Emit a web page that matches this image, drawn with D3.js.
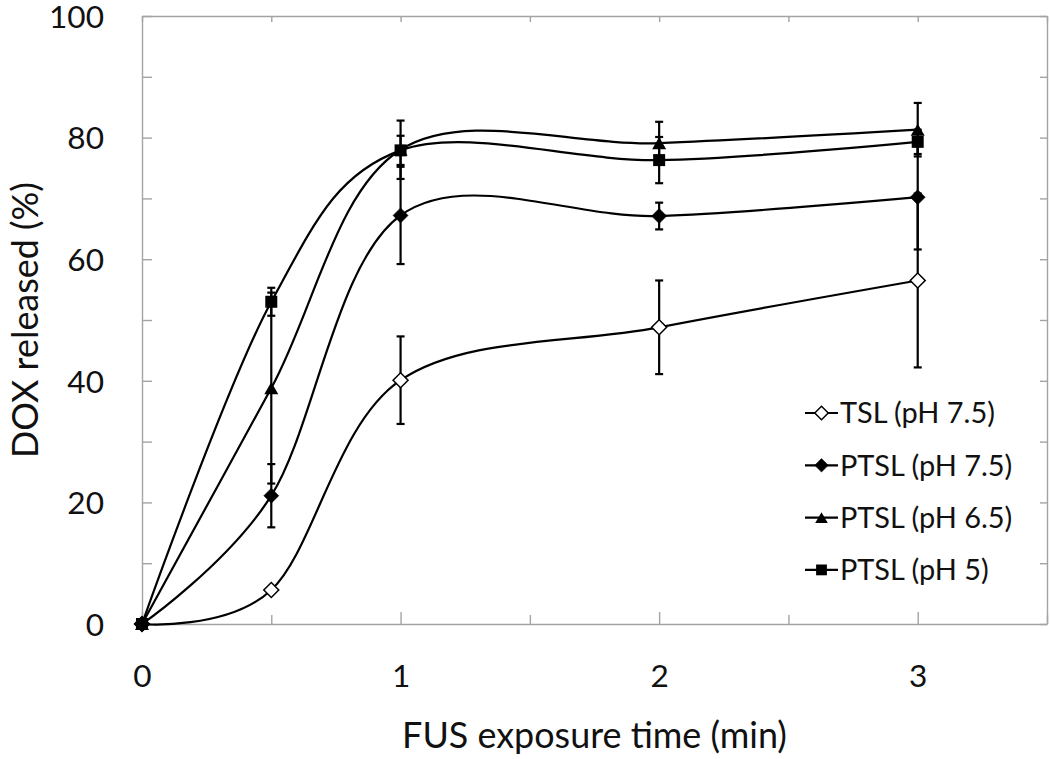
<!DOCTYPE html>
<html><head><meta charset="utf-8">
<script src="https://cdn.jsdelivr.net/npm/d3@7"></script>
<style>body{margin:0;background:#fff}svg{display:block}</style>
</head><body>
<svg id="chart" width="1050" height="759"></svg>
<script>
// ---- data ----
const times = [0, 0.5, 1, 2, 3];
const seriesNames = ["TSL (pH 7.5)", "PTSL (pH 7.5)", "PTSL (pH 6.5)", "PTSL (pH 5)"];
const tslValues    = [0, 5.6, 40.1, 48.8, 56.5];
const tslErrors    = [0, 0, 7.2, 7.7, 14.3];
const ptsl75Values = [0, 21.1, 67.2, 67.1, 70.2];
const ptsl75Errors = [0, 5.2, 8.0, 2.2, 8.6];
const ptsl65Values = [0, 38.8, 78.0, 79.1, 81.3];
const ptsl65Errors = [0, 15.7, 4.8, 3.5, 4.4];
const ptsl5Values  = [0, 53.0, 77.9, 76.3, 79.3];
const ptsl5Errors  = [0, 2.3, 2.4, 3.8, 2.0];
const markerTypes  = ["diamondOpen", "diamond", "triangle", "square"];
const xTickLabels  = [0, 1, 2, 3];
const yTickLabels  = [0, 20, 40, 60, 80, 100];
const xTitle = "FUS exposure time (min)";
const yTitle = "DOX released (%)";

const valuesList = [tslValues, ptsl75Values, ptsl65Values, ptsl5Values];
const errorsList = [tslErrors, ptsl75Errors, ptsl65Errors, ptsl5Errors];
const series = seriesNames.map((name, i) => ({
  name, type: markerTypes[i],
  points: times.map((t, j) => ({t, v: valuesList[i][j], e: errorsList[i][j]}))
}));

// ---- layout ----
const FONT = "Lato, 'Open Sans', sans-serif";
const AXIS_GRAY = "#a3a3a3";
const svg = d3.select("#chart");
svg.append("rect").attr("width", 1050).attr("height", 759).attr("fill", "#fff");

const x = d3.scaleLinear().domain([0, 3.5]).range([142, 1047]);
const y = d3.scaleLinear().domain([0, 100]).range([624, 16]);

function fitSize(text, target, base) {
  const t = svg.append("text").attr("font-family", FONT).attr("font-size", base).text(text);
  const w = t.node().getComputedTextLength();
  t.remove();
  return base * target / w;
}
const tickFs = fitSize("100", 55, 36);
const titleFs = fitSize(xTitle, 385, 36);
const legendFs = fitSize(seriesNames[0], 155, 32);

// ---- axes / frame ----
const halfTicks = d3.range(0, 3.5001, 0.5);
const tenTicks = d3.range(0, 100.001, 10);

const gB = svg.append("g").attr("transform", `translate(0,${y(0)})`)
  .call(d3.axisBottom(x).tickValues(halfTicks).tickSizeInner(-10).tickSizeOuter(0)
    .tickFormat(d => xTickLabels.includes(d) ? d3.format("d")(d) : ""));
gB.selectAll(".tick line").attr("y2", d => Number.isInteger(d) ? -12 : -9);
gB.selectAll(".tick text").attr("y", 63).attr("dy", 0);

const gL = svg.append("g").attr("transform", `translate(${x(0)},0)`)
  .call(d3.axisLeft(y).tickValues(tenTicks).tickSizeInner(-10).tickSizeOuter(0)
    .tickFormat(d => yTickLabels.includes(d) ? d3.format("d")(d) : ""));
gL.selectAll(".tick text").attr("x", -38).attr("dy", tickFs * 0.355).attr("text-anchor", "end");

const gT = svg.append("g").attr("transform", `translate(0,${y(100)})`)
  .call(d3.axisTop(x).tickValues(halfTicks).tickSizeInner(-6).tickSizeOuter(0).tickFormat(""));
const gR = svg.append("g").attr("transform", `translate(${x(3.5)},0)`)
  .call(d3.axisRight(y).tickValues(tenTicks).tickSizeInner(-7).tickSizeOuter(0).tickFormat(""));

[gB, gL, gT, gR].forEach(g => {
  g.select(".domain").attr("stroke", AXIS_GRAY).attr("stroke-width", 1.4);
  g.selectAll(".tick line").attr("stroke", AXIS_GRAY).attr("stroke-width", 1.4);
  g.selectAll(".tick text").attr("fill", "#111").attr("font-family", FONT).attr("font-size", tickFs);
});

// titles
svg.append("text").attr("x", (x(0) + x(3.5)) / 2).attr("y", 748)
  .attr("text-anchor", "middle").attr("font-family", FONT).attr("font-size", titleFs)
  .attr("fill", "#111").text(xTitle);
svg.append("text").attr("transform", `translate(38,${(y(0) + y(100)) / 2}) rotate(-90)`)
  .attr("text-anchor", "middle").attr("font-family", FONT).attr("font-size", titleFs)
  .attr("fill", "#111").text(yTitle);

// ---- markers ----
function marker(g, type, cx, cy, scale = 1) {
  if (type === "square") {
    const s = 12 * scale;
    g.append("path").attr("d", d3.symbol(d3.symbolSquare, s * s)())
      .attr("transform", `translate(${cx},${cy})`).attr("fill", "#000");
  } else if (type === "triangle") {
    const s = 14 * scale, h = s * Math.sqrt(3) / 2;
    g.append("path").attr("d", d3.symbol(d3.symbolTriangle, Math.sqrt(3) / 4 * s * s)())
      .attr("transform", `translate(${cx},${cy + h / 6})`).attr("fill", "#000");
  } else {
    const diag = 15 * scale, side = diag / Math.SQRT2;
    const open = type === "diamondOpen";
    g.append("path").attr("d", d3.symbol(d3.symbolSquare, side * side)())
      .attr("transform", `translate(${cx},${cy}) rotate(45)`)
      .attr("fill", open ? "#fff" : "#000")
      .attr("stroke", "#000").attr("stroke-width", open ? 1.5 : 0.5);
  }
}

// ---- series ----
const line = d3.line().x(d => x(d.t)).y(d => y(d.v)).curve(d3.curveCardinal.tension(0));
const plot = svg.append("g");
series.forEach(s => {
  const g = plot.append("g");
  g.append("path").datum(s.points).attr("d", line)
    .attr("fill", "none").attr("stroke", "#000").attr("stroke-width", 2.2);
  s.points.filter(p => p.e > 0).forEach(p => {
    const cx = x(p.t), y1 = y(p.v + p.e), y2 = y(p.v - p.e);
    g.append("line").attr("x1", cx).attr("x2", cx).attr("y1", y1).attr("y2", y2)
      .attr("stroke", "#000").attr("stroke-width", 2.2);
    [y1, y2].forEach(yy => g.append("line").attr("x1", cx - 4).attr("x2", cx + 4)
      .attr("y1", yy).attr("y2", yy).attr("stroke", "#000").attr("stroke-width", 2.2));
  });
  s.points.forEach(p => marker(g, s.type, x(p.t), y(p.v)));
});

// ---- legend ----
const legend = svg.append("g");
series.forEach((s, i) => {
  const cy = 413 + i * 52.3;
  const g = legend.append("g");
  g.append("line").attr("x1", 805).attr("x2", 838).attr("y1", cy).attr("y2", cy)
    .attr("stroke", "#000").attr("stroke-width", 2.2);
  marker(g, s.type, 821.5, cy, 0.9);
  g.append("text").attr("x", 840).attr("y", cy + legendFs * 0.36)
    .attr("font-family", FONT).attr("font-size", legendFs).attr("fill", "#111").text(s.name);
});
</script>
</body></html>
